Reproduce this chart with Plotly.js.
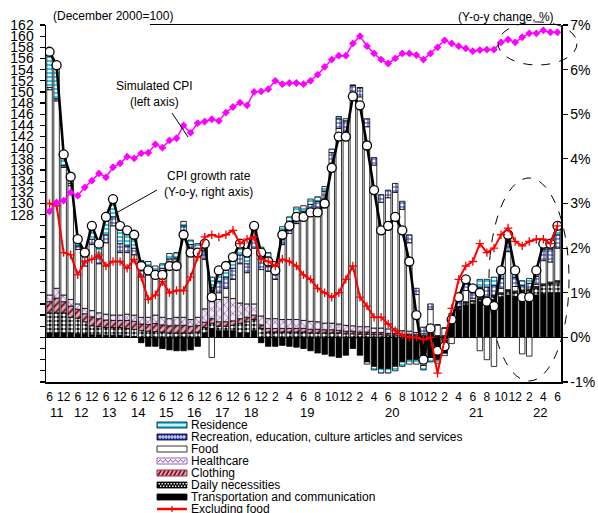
<!DOCTYPE html>
<html><head><meta charset="utf-8">
<script src="https://cdn.plot.ly/plotly-3.0.1.min.js"></script>
<style>html,body{margin:0;padding:0;background:#fff}#chart{width:598px;height:513px}</style>
</head><body><div id="chart"></div>
<script>
// ---- categories (quarterly 2011-2018, monthly 2019-2022) ----
const periods = ["2011-06","2011-09","2011-12",
"2012-03","2012-06","2012-09","2012-12","2013-03","2013-06","2013-09","2013-12",
"2014-03","2014-06","2014-09","2014-12","2015-03","2015-06","2015-09","2015-12",
"2016-03","2016-06","2016-09","2016-12","2017-03","2017-06","2017-09","2017-12",
"2018-03","2018-06","2018-09","2018-12",
"2019-01","2019-02","2019-03","2019-04","2019-05","2019-06","2019-07","2019-08","2019-09","2019-10","2019-11","2019-12",
"2020-01","2020-02","2020-03","2020-04","2020-05","2020-06","2020-07","2020-08","2020-09","2020-10","2020-11","2020-12",
"2021-01","2021-02","2021-03","2021-04","2021-05","2021-06","2021-07","2021-08","2021-09","2021-10","2021-11","2021-12",
"2022-01","2022-02","2022-03","2022-04","2022-05","2022-06"];
const monthTicks = ["6","","12",
"","6","","12","","6","","12","","6","","12","","6","","12","","6","","12","","6","","12","","6","","12",
"","2","","4","","6","","8","","10","","12",
"","2","","4","","6","","8","","10","","12",
"","2","","4","","6","","8","","10","","12",
"","2","","4","","6"];
const yearTicks = ["11","12","13","14","15","16","17","18","19","20","21","22"];
const leftTickVals = [128,130,132,134,136,138,140,142,144,146,148,150,152,154,156,158,160,162];
const leftTickText = ["128","130","132","134","136","138","140","142","144","146","148","150","152","154","156","158","160","162"];
const rightTickVals = [-1,0,1,2,3,4,5,6,7];
const rightTickText = ["-1%","0%","1%","2%","3%","4%","5%","6%","7%"];

// ---- series (percentage-point contributions, right axis) ----
const transport = [.10,.10,.10,.10,.08,.08,.06,.06,.05,.05,.05,.03,.02,
-.12,-.20,-.20,-.25,-.28,-.30,-.30,-.28,-.20,
.10,.20,.15,.15,.15,.10,.10,.15,
-.12,-.20,-.20,-.18,-.20,-.22,-.25,-.30,-.35,-.38,-.42,-.45,-.40,
-.25,-.40,-.55,-.65,-.70,-.70,-.65,-.55,-.50,-.50,-.48,-.45,-.50,-.35,
.38,.62,.72,.75,.80,.82,.85,.90,.95,.92,.90,.92,.95,.98,1.00,1.00];
const daily = [.45,.45,.45,.35,.35,.27,.20,.18,.17,.17,.17,.17,.16,
.15,.14,.13,.12,.10,.10,.10,.10,.12,
.12,.12,.10,.10,.12,.22,.25,.25,
.20,.12,.12,.12,.12,.12,.12,.10,.10,.10,.10,.10,.08,
.08,.07,.07,.06,.06,.05,.05,.04,.04,.03,.02,.02,.02,.02,
.03,.04,.05,.05,.05,.06,.06,.07,.08,.08,.12,.12,.15,.18,.20,.22];
const clothing = [.25,.33,.25,.25,.20,.18,.20,.18,.17,.16,.16,.18,.18,
.15,.15,.18,.16,.16,.17,.17,.15,.15,
.12,.10,.10,.10,.10,.10,.10,.10,
.08,.08,.08,.08,.08,.08,.08,.08,.08,.07,.07,.06,.06,
.06,.05,.05,.05,.05,.04,.04,.03,.03,.03,.02,.02,.00,.00,
.01,.01,.01,.01,.01,.01,.01,.01,.02,.02,.02,.02,.02,.02,.02,.03];
const healthcare = [.15,.22,.15,.15,.12,.12,.14,.13,.13,.12,.12,.14,.14,
.15,.16,.19,.17,.16,.18,.18,.15,.18,
.30,.45,.50,.55,.50,.35,.30,.25,
.20,.22,.22,.20,.20,.20,.18,.18,.17,.15,.15,.14,.13,
.12,.12,.12,.10,.10,.10,.10,.08,.07,.05,.04,.04,.02,.02,
.02,.02,.02,.02,.02,.02,.02,.02,.02,.02,.02,.02,.02,.02,.02,.02];
const food = [4.60,4.20,2.86,2.55,1.22,.95,1.48,1.10,1.60,2.00,1.40,1.38,1.35,
.92,.95,.85,.95,1.19,1.18,1.90,1.53,1.38,
1.11,-.45,.15,.20,.43,.88,.70,1.25,
1.04,1.06,.88,1.68,1.93,2.15,2.25,2.40,2.45,2.71,3.57,4.38,4.33,
5.17,5.15,4.48,3.65,2.82,2.94,3.06,2.72,1.98,.85,-.15,.55,.24,.17,
-.14,.00,.25,.05,-.30,-.50,-.65,.10,.85,.10,-.37,-.42,.05,.52,.45,.73];
const recreation = [.05,.05,.04,.05,.08,.10,.12,.15,.18,.20,.20,.15,.15,
.15,.15,.15,.15,.15,.15,.15,.15,.15,
.20,.25,.25,.25,.25,.20,.20,.25,
.25,.22,.20,.22,.22,.22,.20,.22,.25,.25,.25,.22,.25,
.22,.20,.18,.17,.17,.17,.20,.18,.18,.14,.15,.12,.00,.00,
.06,.12,.15,.12,.25,.22,.22,.22,.22,.20,.10,.13,.18,.26,.29,.30];
const residence = [.80,.75,.25,.15,.15,.20,.30,.30,.40,.40,.40,.35,.30,
.20,.15,.10,.10,.12,.12,.10,.10,.12,
.15,.23,.25,.25,.25,.25,.25,.25,
.25,.20,.20,.18,.15,.15,.12,.12,.10,.10,.08,.05,.05,
.00,.01,-.05,-.08,-.10,-.10,-.10,-.10,-.10,-.10,-.10,-.10,-.08,-.06,
.04,.09,.10,.10,.17,.17,.19,.18,.16,.16,.11,.11,.13,.12,.12,.20];
const cpiGrowth = [6.4,6.1,4.1,3.6,2.2,1.9,2.5,2.1,2.7,3.1,2.5,2.4,2.3,1.6,1.5,1.4,1.4,1.6,1.6,
2.3,1.9,1.9,2.1,0.9,1.5,1.6,1.8,2.1,1.9,2.5,1.9,
1.7,1.5,2.3,2.5,2.7,2.7,2.8,2.8,3.0,3.8,4.5,4.5,
5.4,5.2,4.3,3.3,2.4,2.5,2.7,2.4,1.7,0.5,-0.5,0.2,
-0.3,-0.2,0.4,0.9,1.3,1.1,1.0,0.8,0.7,1.5,2.3,1.5,
0.9,0.9,1.5,2.1,2.1,2.5];
const exclFood = [3.0,2.95,1.9,1.85,1.4,1.7,1.75,1.85,1.6,1.7,1.7,1.55,1.75,1.35,0.85,0.95,1.25,1.0,1.05,
1.05,1.35,1.8,2.25,2.3,2.25,2.3,2.4,2.1,2.2,2.25,1.75,
1.7,1.6,1.75,1.7,1.6,1.4,1.3,1.1,1.0,0.9,1.0,1.3,
1.6,0.9,0.7,0.45,0.45,0.3,0.15,0.05,0.0,0.0,-0.05,0.0,
-0.8,-0.05,0.65,1.3,1.6,1.7,2.1,1.9,2.0,2.3,2.45,2.15,
2.05,2.15,2.2,2.2,2.1,2.5];
// ---- simulated CPI level (left axis, Dec 2000 = 100) ----
const simulatedCPI = [128.6,130.2,130.5,132.0,131.4,132.9,134.1,135.4,134.7,136.5,137.2,138.4,138.1,139.0,139.1,140.6,140.0,141.3,141.7,
144.0,142.7,144.4,144.7,145.1,144.8,146.3,147.3,148.1,147.6,150.0,150.1,
150.5,152.0,151.4,151.6,151.6,151.4,152.0,153.1,154.5,155.8,156.5,156.5,
158.7,160.0,158.2,156.9,155.8,155.1,156.0,156.9,156.9,156.6,155.8,156.9,
158.0,159.25,158.7,158.2,157.8,157.3,157.5,157.6,157.6,158.9,159.4,158.9,
159.8,160.5,160.5,161.05,160.7,160.7];

const legendNames = ["Residence","Recreation, education, culture articles and services","Food","Healthcare","Clothing","Daily necessities","Transportation and communication","Excluding food"];

const idx = periods.map((p,i)=>i);
const FONT = "Liberation Sans, Arial, sans-serif";
const LINE = {color:'#000', width:0.8};

function bar(name, y, color, pattern){
  const m = {color:color, line:LINE};
  if (pattern) m.pattern = pattern;
  return {type:'bar', name:name, x:idx, y:y, yaxis:'y', marker:m, customdata:periods,
    hovertemplate:'%{customdata}: %{y}<extra>'+name+'</extra>', showlegend:false};
}
const traces = [
  bar(legendNames[6], transport, '#000000'),
  bar(legendNames[5], daily, '#000000', {shape:'.', bgcolor:'#000000', fgcolor:'#ffffff', size:4, solidity:0.55, fillmode:'replace'}),
  bar(legendNames[4], clothing, '#8B1010', {shape:'/', bgcolor:'#DDA3C8', fgcolor:'#8B1010', size:5, solidity:0.4, fillmode:'replace'}),
  bar(legendNames[3], healthcare, '#9040C0', {shape:'x', bgcolor:'#F4EAF8', fgcolor:'#9040C0', size:6, solidity:0.2, fillmode:'replace'}),
  bar(legendNames[2], food, '#ffffff'),
  bar(legendNames[1], recreation, '#2233AA', {shape:'+', bgcolor:'#ffffff', fgcolor:'#2233AA', size:4, solidity:0.45, fillmode:'replace'}),
  bar(legendNames[0], residence, '#ffffff', {shape:'-', bgcolor:'#33C8E8', fgcolor:'#ffffff', size:4, solidity:0.45, fillmode:'replace'}),
  {type:'scatter', mode:'lines+markers', name:'CPI growth rate', x:idx, y:cpiGrowth, yaxis:'y',
   line:{color:'#000', width:2.6}, marker:{symbol:'circle', size:9, color:'#fff', line:{color:'#000', width:1.3}}, showlegend:false},
  {type:'scatter', mode:'lines+markers', name:legendNames[7], x:idx, y:exclFood, yaxis:'y',
   line:{color:'#FF0000', width:2}, marker:{symbol:'cross-thin', size:6, color:'#FF0000', line:{color:'#FF0000', width:1.3}}, showlegend:false},
  {type:'scatter', mode:'lines+markers', name:'Simulated CPI', x:idx, y:simulatedCPI, yaxis:'y2',
   line:{color:'#FF00FF', width:1.5}, marker:{symbol:'diamond', size:6, color:'#FF00FF'}, showlegend:false}
];

// pixel -> paper helpers (plot area: x 46..561, y 25..382)
const L=46, R=561, T=25, B=382;
const X = px => (px - L) / (R - L);
const Y = py => (B - py) / (B - T);

const shapes = [];
const annotations = [];
shapes.push({type:'line', xref:'paper', yref:'paper', x0:X(150), x1:1, y0:Y(24.5), y1:Y(24.5), line:{color:'#000', width:1}});
shapes.push({type:'circle', xref:'paper', yref:'paper', x0:X(498), x1:X(577), y0:Y(65), y1:Y(22), line:{color:'#000', width:1, dash:'dash'}});
shapes.push({type:'circle', xref:'paper', yref:'paper', x0:X(489), x1:X(569), y0:Y(381), y1:Y(178), line:{color:'#000', width:1, dash:'dash'}});
shapes.push({type:'line', xref:'paper', yref:'paper', x0:X(172), y0:Y(113), x1:X(188), y1:Y(137), line:{color:'#000', width:1}});
shapes.push({type:'line', xref:'paper', yref:'paper', x0:X(157), y0:Y(190), x1:X(118), y1:Y(212), line:{color:'#000', width:1}});

annotations.push({xref:'paper', yref:'paper', x:X(154), y:Y(94), text:'Simulated CPI<br>(left axis)', showarrow:false, font:{size:12, color:'#000', family:FONT}, align:'center', xanchor:'center', yanchor:'middle'});
annotations.push({xref:'paper', yref:'paper', x:X(208), y:Y(184), text:'CPI growth rate<br>(Y-o-y, right axis)', showarrow:false, font:{size:12, color:'#000', family:FONT}, align:'center', xanchor:'center', yanchor:'middle'});
annotations.push({xref:'paper', yref:'paper', x:X(51), y:Y(16), text:'(December 2000=100)', showarrow:false, font:{size:12, color:'#000', family:FONT}, xanchor:'left', yanchor:'middle'});
annotations.push({xref:'paper', yref:'paper', x:X(556), y:Y(17), text:'(Y-o-y change, %)', showarrow:false, font:{size:12, color:'#000', family:FONT}, xanchor:'right', yanchor:'middle'});

yearTicks.forEach(yt => {
  const pos = idx.filter(i => periods[i].slice(2,4) === yt);
  const c = (pos[0] + pos[pos.length-1]) / 2;
  annotations.push({xref:'x', yref:'paper', x:c, y:Y(412), text:yt, showarrow:false, font:{size:13, color:'#000', family:FONT}, xanchor:'center', yanchor:'middle'});
});

// manual legend
const rowY = [425,437,449,461,473,485,497,509];
const sx0 = 157, sx1 = 187;
function rect(cy, fill, lc){ shapes.push({type:'rect', xref:'paper', yref:'paper', x0:X(sx0), x1:X(sx1), y0:Y(cy+3), y1:Y(cy-3), fillcolor:fill, line:{color:lc||'#000', width:0.8}}); }
function pth(d, color, w){ shapes.push({type:'path', xref:'paper', yref:'paper', path:d, line:{color:color, width:w}}); }
function P(px,py){ return X(px).toFixed(5)+','+Y(py).toFixed(5); }
rect(rowY[0], '#33C8E8'); pth('M'+P(158,rowY[0])+'L'+P(186,rowY[0]), '#ffffff', 1.5);
rect(rowY[1], '#2233AA');
(function(){ let d='M'+P(158,rowY[1])+'L'+P(186,rowY[1]); for(let x=160;x<186;x+=3){ d+='M'+P(x,rowY[1]-2)+'L'+P(x,rowY[1]+2);} pth(d,'#ffffff',0.9); })();
rect(rowY[2], '#ffffff');
rect(rowY[3], '#ffffff', '#7a3aa6');
(function(){ let d='M'+P(158,rowY[3]+1); let up=true; for(let x=160.5;x<=186;x+=2.5){ d+='L'+P(x, rowY[3]+(up?-1.5:1.5)); up=!up;} pth(d,'#9040C0',1); })();
rect(rowY[4], '#DDA3C8', '#6a0a0a');
(function(){ let d=''; for(let x=158;x<184;x+=4){ d+='M'+P(x,rowY[4]+2.5)+'L'+P(x+3,rowY[4]-2.5);} pth(d,'#8B1010',1.6); })();
rect(rowY[5], '#000000');
(function(){ let d=''; for(let x=158.5;x<186;x+=3){ d+='M'+P(x,rowY[5]-1.3)+'L'+P(x+1.4,rowY[5]-1.3); d+='M'+P(x+1.5,rowY[5]+1.3)+'L'+P(x+2.9,rowY[5]+1.3);} pth(d,'#ffffff',1.4); })();
rect(rowY[6], '#000000');
pth('M'+P(sx0,rowY[7])+'L'+P(sx1,rowY[7]), '#FF0000', 2.5);
pth('M'+P(172,rowY[7]-3)+'L'+P(172,rowY[7]+3), '#FF0000', 1.3);
legendNames.forEach((n,k) => {
  annotations.push({xref:'paper', yref:'paper', x:X(189), y:Y(rowY[k]), text:n, showarrow:false, font:{size:12, color:'#000', family:FONT}, xanchor:'left', yanchor:'middle'});
});

const tickIdx = idx.filter(i => monthTicks[i] !== "");
const layout = {
  width:598, height:513, autosize:false,
  margin:{l:L, r:598-R, t:T, b:513-B, pad:0},
  paper_bgcolor:'#fff', plot_bgcolor:'#fff',
  font:{family:FONT, color:'#000'},
  barmode:'relative', bargap:0.22,
  showlegend:false,
  xaxis:{range:[-0.5, periods.length-0.5], tickmode:'array', tickvals:tickIdx, ticktext:tickIdx.map(i=>monthTicks[i]),
    tickangle:0, ticks:'', showgrid:false, zeroline:false, showline:true, linecolor:'#000', linewidth:1.5,
    tickfont:{size:12, family:FONT, color:'#000'}, ticklabelstandoff:3, fixedrange:true},
  yaxis:{side:'right', range:[-1,7], tickmode:'array', tickvals:rightTickVals, ticktext:rightTickText,
    ticks:'outside', ticklen:5, tickwidth:1.2, tickcolor:'#000', showgrid:false,
    zeroline:true, zerolinecolor:'#000', zerolinewidth:1, showline:true, linecolor:'#000', linewidth:1.5,
    tickfont:{size:14, family:FONT, color:'#000'}, fixedrange:true},
  yaxis2:{overlaying:'y', side:'left', range:[98,162], tickmode:'array', tickvals:leftTickVals, ticktext:leftTickText,
    ticks:'outside', ticklen:5, tickwidth:1.2, tickcolor:'#000', showgrid:false, zeroline:false,
    minor:{tickmode:'linear', tick0:98, dtick:2, ticks:'outside', ticklen:5, tickwidth:1.2, tickcolor:'#000', showgrid:false},
    showline:true, linecolor:'#000', linewidth:1.5, tickfont:{size:14, family:FONT, color:'#000'}, ticklabelstandoff:3, fixedrange:true},
  shapes:shapes, annotations:annotations
};
Plotly.newPlot('chart', traces, layout, {displayModeBar:false, staticPlot:true});
</script>
</body></html>
